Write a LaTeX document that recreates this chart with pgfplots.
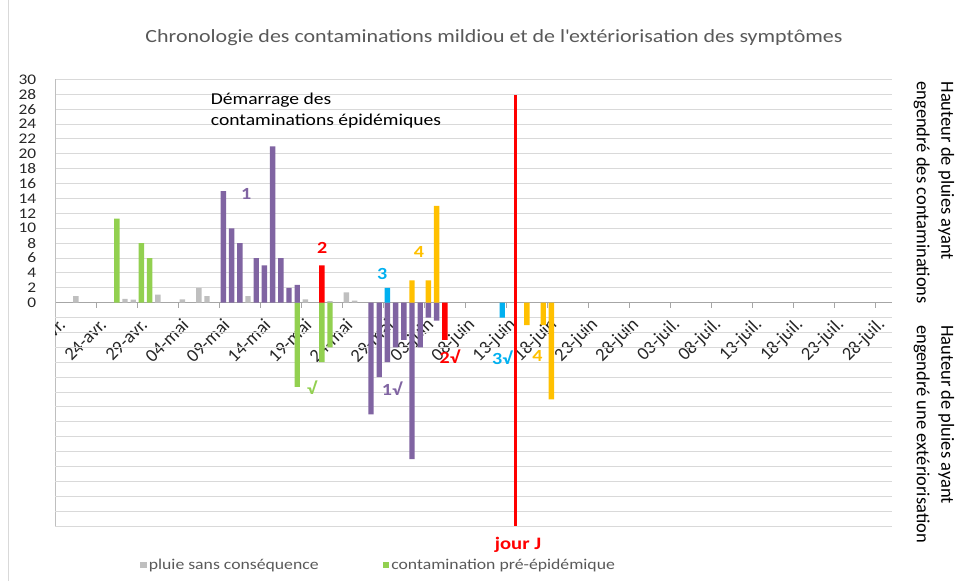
\documentclass[border=0pt]{standalone}
\usepackage{pgfplots}
\pgfplotsset{compat=1.18}
\usepackage{fontspec}
\setmainfont{Carlito}[FakeStretch=1.18]
\newfontfamily\vfont{Carlito}
\definecolor{cgray}{HTML}{BFBFBF}
\definecolor{cgreen}{HTML}{92D050}
\definecolor{cpurple}{HTML}{8064A2}
\definecolor{cred}{HTML}{FF0000}
\definecolor{cblue}{HTML}{00B0F0}
\definecolor{corange}{HTML}{FFC000}
\definecolor{gridc}{HTML}{D9D9D9}
\definecolor{axc}{HTML}{A6A6A6}
\definecolor{titlec}{HTML}{595959}
\definecolor{txt}{HTML}{262626}
\newcommand\tfont{\fontsize{14.7}{17}\selectfont}
\newcommand\xfont{\vfont\fontsize{18.5}{21}\selectfont}
\newcommand\numfont{\bfseries\fontsize{17}{20}\selectfont}
\begin{document}
\begin{tikzpicture}
\path[use as bounding box] (0,0) rectangle (973pt,581pt);
\draw[gridc, line width=1pt] (8.5pt,0) -- (8.5pt,581pt);
\begin{axis}[
  at={(55.3pt,55pt)}, anchor=south west,
  scale only axis, width=836.4pt, height=446.6pt,
  xmin=-0.5, xmax=101.5, ymin=-30, ymax=30,
  clip=false,
  axis x line=middle, axis y line=left,
  x axis line style={-, draw=axc, line width=0.9pt},
  y axis line style={-, draw=cgray, line width=0.9pt},
  tick align=outside,
  xtick={4.5,9.5,14.5,19.5,24.5,29.5,34.5,39.5,44.5,49.5,54.5,59.5,64.5,69.5,74.5,79.5,84.5,89.5,94.5,99.5},
  xticklabels={24-avr.,29-avr.,04-mai,09-mai,14-mai,19-mai,24-mai,29-mai,03-juin,08-juin,13-juin,18-juin,23-juin,28-juin,03-juil.,08-juil.,13-juil.,18-juil.,23-juil.,28-juil.},
  xtick style={draw=axc, line width=0.9pt},
  major tick length=5pt,
  xticklabel style={font=\xfont, text=txt, inner sep=0pt, xshift=7pt, yshift=-14pt, rotate=45, anchor=east},
  ytick={0,2,...,30},
  ytick style={draw=none},
  extra y ticks={-30,-28,...,-2},
  extra y tick labels={},
  extra y tick style={grid=major},
  ymajorgrids=true,
  major grid style={draw=gridc, line width=0.9pt},
  yticklabel style={font=\tfont, text=txt, inner sep=0pt, xshift=-14pt},
  /pgf/number format/assume math mode=true,
  legend style={at={(0.0977,-0.0873)}, anchor=west, draw=none, fill=none,
    font=\fontsize{15}{18}\selectfont, text=titlec, legend columns=2,
    /tikz/every even column/.append style={column sep=62pt}},
  legend image code/.code={\fill[#1] (0pt,-3.3pt) rectangle (6.6pt,3.3pt);},
]
\addplot[ybar, bar width=5.4pt, bar shift=0pt, fill=cgray, draw=none] coordinates {
 (2,0.9) (8,0.5) (9,0.4) (12,1.1) (15,0.45) (17,2) (18,0.9) (23,0.9) (30,0.45) (33,0.2) (35,1.4) (36,0.27)};
\addlegendentry{pluie sans conséquence}
\addplot[ybar, bar width=5.4pt, bar shift=0pt, fill=cgreen, draw=none] coordinates {
 (7,11.3) (10,8) (11,6) (29,-11.3) (32,-8) (33,-6)};
\addlegendentry{contamination pré-épidémique}
\addplot[ybar, bar width=5.4pt, bar shift=0pt, fill=cpurple, draw=none, forget plot] coordinates {
 (20,15) (21,10) (22,8) (24,6) (25,5) (26,21) (27,6) (28,2) (29,2.4)
 (38,-15) (39,-10) (40,-8) (41,-6) (42,-5) (43,-21) (44,-6) (45,-2) (46,-2.4)};
\addplot[ybar, bar width=5.4pt, bar shift=0pt, fill=cred, draw=none, forget plot] coordinates {
 (32,5) (47,-5)};
\addplot[ybar, bar width=5.4pt, bar shift=0pt, fill=cblue, draw=none, forget plot] coordinates {
 (40,2) (54,-2)};
\addplot[ybar, bar width=5.4pt, bar shift=0pt, fill=corange, draw=none, forget plot] coordinates {
 (43,3) (45,3) (46,13) (57,-3) (59,-3) (60,-13)};
\addplot[cred, line width=2.3pt, forget plot] coordinates {(55.62,27.86) (55.62,-30)};
\node[font=\fontsize{16.6}{21.7}\selectfont, text=black, anchor=west, align=left, inner sep=0pt] at (axis cs:18.45,25.8) {Démarrage des\\contaminations épidémiques};
\node[font=\numfont, text=cpurple] at (axis cs:22.78,14.58) {1};
\node[font=\numfont, text=cred] at (axis cs:32.06,7.33) {2};
\node[font=\numfont, text=cblue] at (axis cs:39.38,3.9) {3};
\node[font=\numfont, text=corange] at (axis cs:43.85,6.87) {4};
\node[font=\numfont, text=cgreen] at (axis cs:30.8,-11.35) {√};
\node[font=\numfont, text=cpurple] at (axis cs:40.56,-11.6) {1√};
\node[font=\numfont, text=cred] at (axis cs:47.6,-7.26) {2√};
\node[font=\numfont, text=cblue] at (axis cs:54.0,-7.35) {3√};
\node[font=\numfont, text=corange] at (axis cs:58.3,-7.2) {4};
\end{axis}
\begin{scope}
\clip (55pt,200pt) rectangle (130pt,300pt);
\node[font=\xfont, text=txt, inner sep=0pt, rotate=45, anchor=east] at (62.3pt,259.3pt) {19-avr.};
\end{scope}
\node[font=\fontsize{18.6}{22}\selectfont, text=titlec] at (494pt,543pt) {Chronologie des contaminations mildiou et de l\textquotesingle extériorisation des symptômes};
\node[font=\bfseries\fontsize{17.5}{20}\selectfont, text=cred] at (518pt,36pt) {jour J};
\node[rotate=-90, font=\vfont\fontsize{18.5}{24.5}\selectfont, align=left, anchor=west, text=black] at (934pt,503pt) {Hauteur de pluies ayant\\engendré des contaminations};
\node[rotate=-90, font=\vfont\fontsize{18.5}{24.5}\selectfont, align=left, anchor=west, text=black] at (934pt,259.3pt) {Hauteur de pluies ayant\\engendré une extériorisation};
\end{tikzpicture}
\end{document}
